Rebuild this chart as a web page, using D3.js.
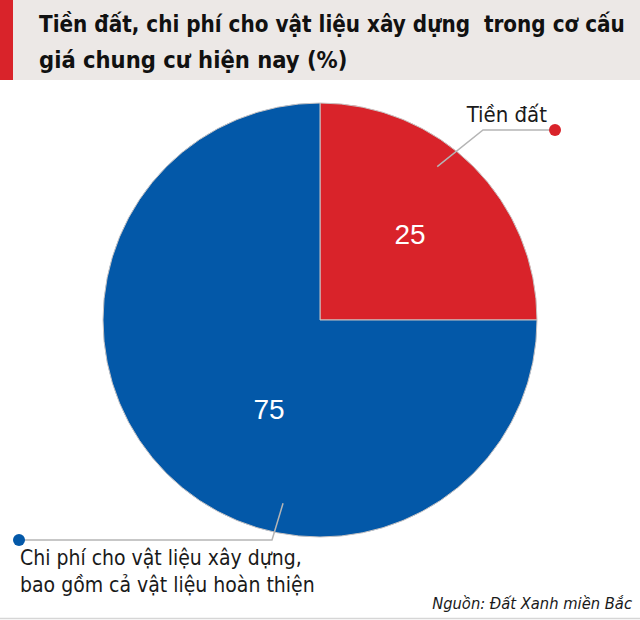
<!DOCTYPE html>
<html>
<head>
<meta charset="utf-8">
<script src="https://cdn.jsdelivr.net/npm/d3@7"></script>
<style>
  html, body { margin: 0; padding: 0; background: #fff; }
  svg { display: block; }
</style>
</head>
<body>
<div id="chart"></div>
<script>
// Dữ liệu biểu đồ
const categories = ['Tiền đất', 'Chi phí cho vật liệu xây dựng'];
const values = [25, 75];
const colors = ['#d9232a', '#0358a8'];
const titleLines = ['Tiền đất, chi phí cho vật liệu xây dựng  trong cơ cấu', 'giá chung cư hiện nay (%)'];
const labelLines = [['Tiền đất'], ['Chi phí cho vật liệu xây dựng,', 'bao gồm cả vật liệu hoàn thiện']];
const sourceText = 'Nguồn: Đất Xanh miền Bắc';

const width = 640;
const height = 620;
const cx = 320, cy = 320, radius = 217;
const narrow = '"DejaVu Sans Condensed", "DejaVu Sans", sans-serif';

const svg = d3.select('#chart')
    .append('svg')
    .attr('width', width)
    .attr('height', height);

// thu nhỏ cỡ chữ khi chữ rộng hơn chỗ có sẵn (font gốc là font hẹp)
function fit(sel, widths) {
    sel.each(function (d, i) {
        const w = typeof widths === 'function' ? widths(d, i) : widths;
        const len = this.getComputedTextLength();
        if (len > w) {
            const fs = parseFloat(d3.select(this).attr('font-size'));
            d3.select(this).attr('font-size', (fs * w / len).toFixed(2) + 'px');
        }
    });
}

// Tiêu đề
svg.append('rect').attr('x', 0).attr('y', 0).attr('width', width).attr('height', 80).attr('fill', '#ece8e6');
svg.append('rect').attr('x', 0).attr('y', 0).attr('width', 13).attr('height', 80).attr('fill', '#d9232a');
const titleText = svg.append('g')
    .selectAll('text')
    .data(titleLines)
    .enter()
    .append('text')
    .attr('x', 39)
    .attr('y', (d, i) => 32 + i * 36)
    .attr('font-family', narrow)
    .attr('font-weight', 'bold')
    .attr('font-size', '23.5px')
    .attr('fill', '#111')
    .style('white-space', 'pre')
    .text(d => d);
fit(titleText, 586);

// Pie
const pie = d3.pie().sort(null).value(d => d);
const arc = d3.arc().innerRadius(0).outerRadius(radius);
const arcs = pie(values);

const g = svg.append('g').attr('transform', `translate(${cx},${cy})`);
g.selectAll('path')
    .data(arcs)
    .enter()
    .append('path')
    .attr('d', arc)
    .attr('fill', (d, i) => colors[i])
    .attr('stroke', '#c8c4c4')
    .attr('stroke-width', 1);

// Giá trị trên lát
const valuePos = [[90, -76], [-51, 99]];
g.selectAll('text.val')
    .data(arcs)
    .enter()
    .append('text')
    .attr('class', 'val')
    .attr('x', (d, i) => valuePos[i][0])
    .attr('y', (d, i) => valuePos[i][1])
    .attr('text-anchor', 'middle')
    .attr('font-family', '"Liberation Sans", Arial, sans-serif')
    .attr('font-size', '28px')
    .attr('fill', '#fff')
    .text(d => d.data);

// Đường chú thích
const leaders = [
    { angle: 37.4, r: 193, bend: [483, 130], end: [555, 130] },
    { angle: 191.4, r: 187, bend: [272, 540], end: [19, 540] }
];
leaders.forEach((l, i) => {
    const a = l.angle * Math.PI / 180;
    const p0 = [cx + l.r * Math.sin(a), cy - l.r * Math.cos(a)];
    svg.append('polyline')
        .attr('points', [p0, l.bend, l.end].map(p => p.join(',')).join(' '))
        .attr('fill', 'none')
        .attr('stroke', '#b5b5b5')
        .attr('stroke-width', 1.5);
    svg.append('circle')
        .attr('cx', l.end[0])
        .attr('cy', l.end[1])
        .attr('r', 6)
        .attr('fill', colors[i]);
});

// Nhãn
svg.append('text')
    .attr('x', 547)
    .attr('y', 122)
    .attr('text-anchor', 'end')
    .attr('font-family', narrow)
    .attr('font-size', '22px')
    .attr('fill', '#1a1a1a')
    .text(labelLines[0][0]);

svg.append('g')
    .selectAll('text')
    .data(labelLines[1])
    .enter()
    .append('text')
    .attr('x', 20)
    .attr('y', (d, i) => 565 + i * 27)
    .attr('font-family', narrow)
    .attr('font-size', '21px')
    .attr('fill', '#1a1a1a')
    .text(d => d);

// Nguồn
const src = svg.append('text')
    .attr('x', 632)
    .attr('y', 609)
    .attr('text-anchor', 'end')
    .attr('font-family', narrow)
    .attr('font-style', 'italic')
    .attr('font-size', '18px')
    .attr('fill', '#1a1a1a')
    .text(sourceText);
fit(src, 200);

svg.append('line')
    .attr('x1', 0).attr('x2', width)
    .attr('y1', 618.5).attr('y2', 618.5)
    .attr('stroke', '#d6d6d6')
    .attr('stroke-width', 1.5);
</script>
</body>
</html>
